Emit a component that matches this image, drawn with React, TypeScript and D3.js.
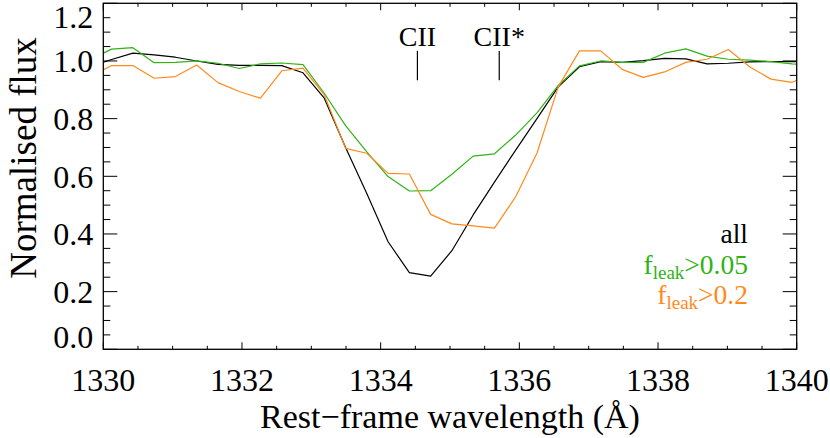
import React from "react";
import * as d3 from "d3";

const wavelength = [1329.813, 1330.12, 1330.427, 1330.733, 1331.04, 1331.347, 1331.654, 1331.96, 1332.267, 1332.574, 1332.88, 1333.187, 1333.494, 1333.8, 1334.107, 1334.414, 1334.721, 1335.027, 1335.334, 1335.641, 1335.947, 1336.254, 1336.561, 1336.867, 1337.174, 1337.481, 1337.788, 1338.094, 1338.401, 1338.708, 1339.014, 1339.321, 1339.628, 1339.934, 1340.241];
const fluxAll = [0.98, 1.005, 1.027, 1.021, 1.013, 1.0, 0.988, 0.985, 0.985, 0.984, 0.959, 0.871, 0.70, 0.54, 0.373, 0.266, 0.254, 0.342, 0.466, 0.58, 0.691, 0.80, 0.91, 0.98, 0.998, 0.995, 1.001, 1.009, 1.007, 0.99, 0.992, 0.997, 0.998, 0.998, 0.995];
const fluxLeak005 = [1.006, 1.041, 1.046, 0.994, 0.995, 1.0, 0.992, 0.974, 0.99, 0.993, 0.987, 0.888, 0.776, 0.685, 0.599, 0.549, 0.55, 0.607, 0.67, 0.678, 0.743, 0.82, 0.915, 0.983, 1.0, 0.995, 0.995, 1.027, 1.042, 1.017, 1.006, 1.003, 0.998, 0.99, 0.985];
const fluxLeak02 = [0.946, 0.984, 0.984, 0.94, 0.946, 0.986, 0.925, 0.894, 0.871, 0.966, 0.975, 0.882, 0.697, 0.68, 0.61, 0.608, 0.468, 0.435, 0.428, 0.42, 0.529, 0.68, 0.91, 1.035, 1.035, 0.971, 0.943, 0.962, 0.995, 1.006, 1.04, 0.98, 0.937, 0.926, 0.96];

const xTicks = [1330, 1332, 1334, 1336, 1338, 1340];
const yTicks = [0.0, 0.2, 0.4, 0.6, 0.8, 1.0, 1.2];
const lineMarks = [
  { label: "CII", wave: 1334.53 },
  { label: "CII*", wave: 1335.71 },
];
const seriesNames = ["all", "f_leak>0.05", "f_leak>0.2"];
const seriesColors = ["#000000", "#2fb315", "#ff8a1c"];

const W = 830;
const H = 438;
const L = 103.3, R = 796.7, T = 3.3, B = 349.3;
const FONT = "Liberation Serif";

export default function App() {
  const x = d3.scaleLinear().domain([1330, 1340]).range([L, R]);
  const y = d3.scaleLinear().domain([0, 1.2]).range([B, T]);
  const line = d3
    .line<number>()
    .x((_, i) => x(wavelength[i]))
    .y((d) => y(d));
  const series = [fluxAll, fluxLeak005, fluxLeak02];
  const xMinor = d3.range(1330, 1340.001, 0.5);
  const yMinor = d3.range(0, 1.2001, 0.05);
  const isMajorX = (v: number) => xTicks.some((t) => Math.abs(t - v) < 1e-6);
  const isMajorY = (v: number) => yTicks.some((t) => Math.abs(t - v) < 1e-6);
  const tf = { fontFamily: FONT };

  return (
    <svg width={W} height={H} style={{ position: "absolute", left: 0, top: 0, background: "#fff", fontFamily: FONT }}>
      <defs>
        <clipPath id="plotclip">
          <rect x={L} y={T} width={R - L} height={B - T} />
        </clipPath>
      </defs>
      <g clipPath="url(#plotclip)" fill="none" strokeWidth={1.2} strokeLinejoin="round">
        {series.map((s, i) => (
          <path key={i} d={line(s) || ""} stroke={seriesColors[i]} />
        ))}
      </g>
      <rect x={L} y={T} width={R - L} height={B - T} fill="none" stroke="#000" strokeWidth={1.3} />
      {xMinor.map((v, i) => {
        const len = isMajorX(v) ? 7 : 3.5;
        return (
          <g key={"xt" + i} stroke="#000" strokeWidth={1}>
            <line x1={x(v)} x2={x(v)} y1={B} y2={B - len} />
            <line x1={x(v)} x2={x(v)} y1={T} y2={T + len} />
          </g>
        );
      })}
      {yMinor.map((v, i) => {
        const len = isMajorY(v) ? 14 : 7;
        return (
          <g key={"yt" + i} stroke="#000" strokeWidth={1}>
            <line x1={L} x2={L + len} y1={y(v)} y2={y(v)} />
            <line x1={R} x2={R - len} y1={y(v)} y2={y(v)} />
          </g>
        );
      })}
      {xTicks.map((t) => (
        <text key={"xl" + t} x={x(t)} y={B + 42} textAnchor="middle" fontSize={32} style={tf}>
          {t}
        </text>
      ))}
      {yTicks.map((t) => (
        <text
          key={"yl" + t}
          x={L - 10}
          y={Math.max(T + 25, Math.min(B - 1.5, y(t) + 11.5))}
          textAnchor="end"
          fontSize={32}
          style={tf}
        >
          {t.toFixed(1)}
        </text>
      ))}
      <text x={(L + R) / 2} y={428} textAnchor="middle" fontSize={34} style={tf}>
        Rest−frame wavelength (Å)
      </text>
      <text
        transform={`translate(36, 158) rotate(-90)`}
        textAnchor="middle"
        fontSize={37}
        style={tf}
      >
        Normalised flux
      </text>
      {lineMarks.map((m) => (
        <g key={m.label}>
          <line x1={x(m.wave)} x2={x(m.wave)} y1={y(1.035)} y2={y(0.933)} stroke="#000" strokeWidth={1.2} />
          <text x={x(m.wave)} y={46} textAnchor="middle" fontSize={28} style={tf}>
            {m.label}
          </text>
        </g>
      ))}
      {seriesNames.map((n, i) => {
        const yy = 243 + i * 30.5;
        if (n === "all") {
          return (
            <text key={n} x={748} y={yy} textAnchor="end" fontSize={27.5} fill={seriesColors[i]} style={tf}>
              all
            </text>
          );
        }
        const rest = n.replace("f_leak", "");
        return (
          <text key={n} x={748} y={yy} textAnchor="end" fontSize={27.5} fill={seriesColors[i]} style={tf}>
            f
            <tspan fontSize={19} dy={5}>leak</tspan>
            <tspan dy={-5}>{rest}</tspan>
          </text>
        );
      })}
    </svg>
  );
}
